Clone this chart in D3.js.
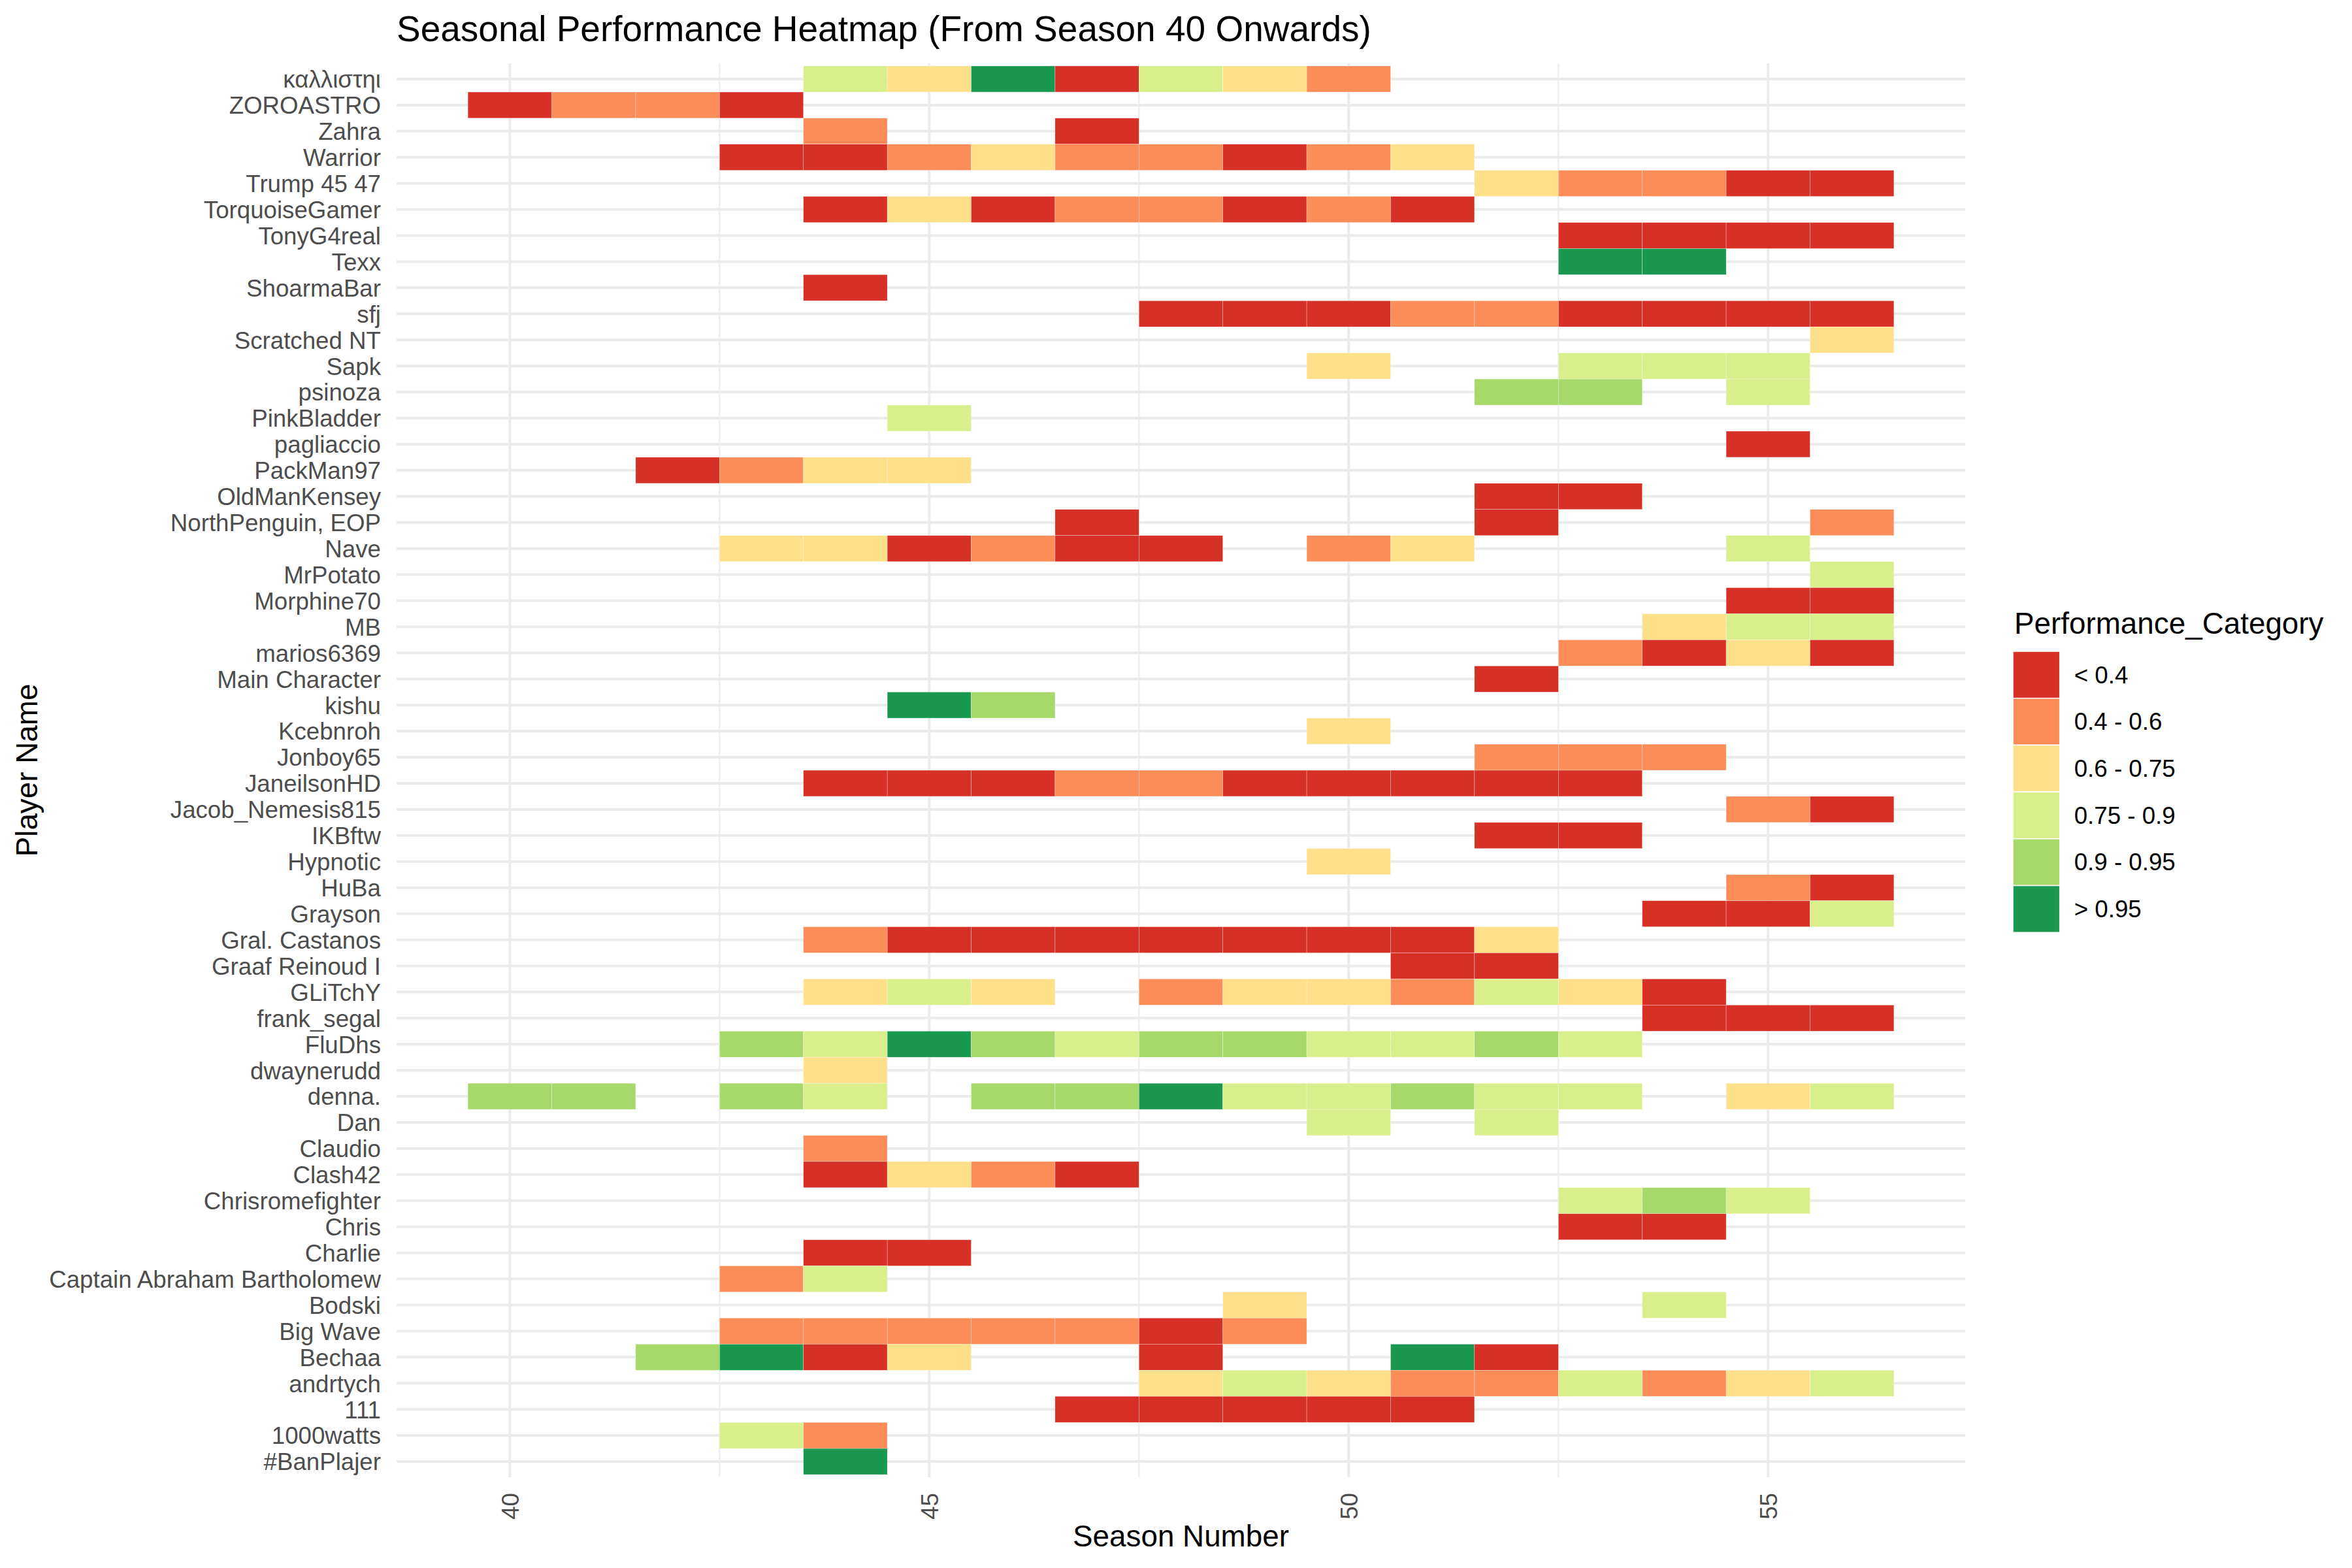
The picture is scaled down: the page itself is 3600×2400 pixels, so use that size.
<!DOCTYPE html>
<html>
<head>
<meta charset="utf-8">
<script src="https://cdn.jsdelivr.net/npm/d3@7"></script>
<style>
  html, body { margin: 0; padding: 0; background: #ffffff; }
  svg { display: block; }
  text { font-family: "Liberation Sans", Arial, Helvetica, sans-serif; }
</style>
</head>
<body>
<svg id="chart" width="3600" height="2400"></svg>
<script>
// ---------------- DATA ----------------
const chartTitle = "Seasonal Performance Heatmap (From Season 40 Onwards)";
const xTitle = "Season Number";
const yTitle = "Player Name";
const legendTitle = "Performance_Category";

const categories = ["< 0.4", "0.4 - 0.6", "0.6 - 0.75", "0.75 - 0.9", "0.9 - 0.95", "> 0.95"];
const categoryColors = ["#D73027", "#FC8D59", "#FEE08B", "#D9EF8B", "#A6D96A", "#1A9850"];

const seasonTicks = [40, 45, 50, 55];
const seasonMinorTicks = [42.5, 47.5, 52.5];
const seasonRange = [40, 56];

// players listed top to bottom
const players = [
  "καλλιστηι", "ZOROASTRO", "Zahra", "Warrior", "Trump 45 47", "TorquoiseGamer",
  "TonyG4real", "Texx", "ShoarmaBar", "sfj", "Scratched NT", "Sapk", "psinoza",
  "PinkBladder", "pagliaccio", "PackMan97", "OldManKensey", "NorthPenguin, EOP",
  "Nave", "MrPotato", "Morphine70", "MB", "marios6369", "Main Character", "kishu",
  "Kcebnroh", "Jonboy65", "JaneilsonHD", "Jacob_Nemesis815", "IKBftw", "Hypnotic",
  "HuBa", "Grayson", "Gral. Castanos", "Graaf Reinoud I", "GLiTchY", "frank_segal",
  "FluDhs", "dwaynerudd", "denna.", "Dan", "Claudio", "Clash42", "Chrisromefighter",
  "Chris", "Charlie", "Captain Abraham Bartholomew", "Bodski", "Big Wave", "Bechaa",
  "andrtych", "111", "1000watts", "#BanPlajer"
];

// [season, category index] pairs for each player (same order as players)
const playerSeasons = [
  [[44,3],[45,2],[46,5],[47,0],[48,3],[49,2],[50,1]],
  [[40,0],[41,1],[42,1],[43,0]],
  [[44,1],[47,0]],
  [[43,0],[44,0],[45,1],[46,2],[47,1],[48,1],[49,0],[50,1],[51,2]],
  [[52,2],[53,1],[54,1],[55,0],[56,0]],
  [[44,0],[45,2],[46,0],[47,1],[48,1],[49,0],[50,1],[51,0]],
  [[53,0],[54,0],[55,0],[56,0]],
  [[53,5],[54,5]],
  [[44,0]],
  [[48,0],[49,0],[50,0],[51,1],[52,1],[53,0],[54,0],[55,0],[56,0]],
  [[56,2]],
  [[50,2],[53,3],[54,3],[55,3]],
  [[52,4],[53,4],[55,3]],
  [[45,3]],
  [[55,0]],
  [[42,0],[43,1],[44,2],[45,2]],
  [[52,0],[53,0]],
  [[47,0],[52,0],[56,1]],
  [[43,2],[44,2],[45,0],[46,1],[47,0],[48,0],[50,1],[51,2],[55,3]],
  [[56,3]],
  [[55,0],[56,0]],
  [[54,2],[55,3],[56,3]],
  [[53,1],[54,0],[55,2],[56,0]],
  [[52,0]],
  [[45,5],[46,4]],
  [[50,2]],
  [[52,1],[53,1],[54,1]],
  [[44,0],[45,0],[46,0],[47,1],[48,1],[49,0],[50,0],[51,0],[52,0],[53,0]],
  [[55,1],[56,0]],
  [[52,0],[53,0]],
  [[50,2]],
  [[55,1],[56,0]],
  [[54,0],[55,0],[56,3]],
  [[44,1],[45,0],[46,0],[47,0],[48,0],[49,0],[50,0],[51,0],[52,2]],
  [[51,0],[52,0]],
  [[44,2],[45,3],[46,2],[48,1],[49,2],[50,2],[51,1],[52,3],[53,2],[54,0]],
  [[54,0],[55,0],[56,0]],
  [[43,4],[44,3],[45,5],[46,4],[47,3],[48,4],[49,4],[50,3],[51,3],[52,4],[53,3]],
  [[44,2]],
  [[40,4],[41,4],[43,4],[44,3],[46,4],[47,4],[48,5],[49,3],[50,3],[51,4],[52,3],[53,3],[55,2],[56,3]],
  [[50,3],[52,3]],
  [[44,1]],
  [[44,0],[45,2],[46,1],[47,0]],
  [[53,3],[54,4],[55,3]],
  [[53,0],[54,0]],
  [[44,0],[45,0]],
  [[43,1],[44,3]],
  [[49,2],[54,3]],
  [[43,1],[44,1],[45,1],[46,1],[47,1],[48,0],[49,1]],
  [[42,4],[43,5],[44,0],[45,2],[48,0],[51,5],[52,0]],
  [[48,2],[49,3],[50,2],[51,1],[52,1],[53,3],[54,1],[55,2],[56,3]],
  [[47,0],[48,0],[49,0],[50,0],[51,0]],
  [[43,3],[44,1]],
  [[44,5]]
];

// ---------------- LAYOUT ----------------
const panel = { left: 607, right: 3008, top: 97, bottom: 2261 };
const axisTextSize = 36.7;
const titleSize = 55;
const axisTitleSize = 45.8;

const svg = d3.select("#chart");
svg.append("rect").attr("width", 3600).attr("height", 2400).attr("fill", "#ffffff");

// continuous x with ggplot-like 5% expansion around tile extents
const xLo = seasonRange[0] - 0.5, xHi = seasonRange[1] + 0.5;
const xPad = (xHi - xLo) * 0.05;
const x = d3.scaleLinear().domain([xLo - xPad, xHi + xPad]).range([panel.left, panel.right]);

// discrete y, 0.6 expansion
const y = d3.scalePoint().domain(players).range([panel.top, panel.bottom]).padding(0.6);
const rowH = y.step();
const colW = x(1) - x(0);

const color = d3.scaleOrdinal().domain(d3.range(categories.length)).range(categoryColors);

// ---------------- GRID ----------------
const grid = svg.append("g");
grid.selectAll(".minor").data(seasonMinorTicks).join("line")
  .attr("x1", d => x(d)).attr("x2", d => x(d))
  .attr("y1", panel.top).attr("y2", panel.bottom)
  .attr("stroke", "#EBEBEB").attr("stroke-width", 2);
grid.selectAll(".majorx").data(seasonTicks).join("line")
  .attr("x1", d => x(d)).attr("x2", d => x(d))
  .attr("y1", panel.top).attr("y2", panel.bottom)
  .attr("stroke", "#EBEBEB").attr("stroke-width", 4);
grid.selectAll(".majory").data(players).join("line")
  .attr("x1", panel.left).attr("x2", panel.right)
  .attr("y1", d => y(d)).attr("y2", d => y(d))
  .attr("stroke", "#EBEBEB").attr("stroke-width", 4);

// ---------------- TILES ----------------
const cells = [];
players.forEach((p, i) => {
  playerSeasons[i].forEach(([s, c]) => cells.push({ player: p, season: s, cat: c }));
});

svg.append("g").selectAll("rect").data(cells).join("rect")
  .attr("x", d => x(d.season - 0.5))
  .attr("y", d => y(d.player) - rowH / 2)
  .attr("width", colW)
  .attr("height", rowH)
  .attr("fill", d => color(d.cat))
  .attr("stroke", "#ffffff")
  .attr("stroke-opacity", 0.6)
  .attr("stroke-width", 0.5);

// ---------------- AXES ----------------
const yAxis = svg.append("g")
  .attr("transform", `translate(${panel.left - 24},0)`)
  .call(d3.axisLeft(y).tickSize(0).tickPadding(0));
yAxis.select(".domain").remove();
yAxis.selectAll("text")
  .attr("fill", "#4D4D4D")
  .style("font-size", axisTextSize + "px")
  .style("font-family", '"Liberation Sans", Arial, sans-serif')
  .attr("dy", "0.35em");

const xAxis = svg.append("g")
  .attr("transform", `translate(0,${panel.bottom + 24})`)
  .call(d3.axisBottom(x).tickValues(seasonTicks).tickSize(0).tickPadding(0));
xAxis.select(".domain").remove();
xAxis.selectAll("text")
  .attr("fill", "#4D4D4D")
  .style("font-size", axisTextSize + "px")
  .style("font-family", '"Liberation Sans", Arial, sans-serif')
  .attr("text-anchor", "end")
  .attr("transform", "rotate(-90)")
  .attr("x", 0).attr("y", 0)
  .attr("dy", "0.35em");

// ---------------- TITLES ----------------
svg.append("text")
  .attr("x", panel.left).attr("y", 63)
  .attr("fill", "#000000")
  .style("font-size", titleSize + "px")
  .text(chartTitle);

svg.append("text")
  .attr("x", (panel.left + panel.right) / 2).attr("y", 2367)
  .attr("text-anchor", "middle")
  .attr("fill", "#000000")
  .style("font-size", axisTitleSize + "px")
  .text(xTitle);

svg.append("text")
  .attr("transform", `translate(57,${(panel.top + panel.bottom) / 2}) rotate(-90)`)
  .attr("text-anchor", "middle")
  .attr("fill", "#000000")
  .style("font-size", axisTitleSize + "px")
  .text(yTitle);

// ---------------- LEGEND ----------------
const legendX = 3081, keyTop = 997, keySize = 71.7;
const legend = svg.append("g");
legend.append("text")
  .attr("x", legendX + 2).attr("y", 970)
  .attr("fill", "#000000")
  .style("font-size", axisTitleSize + "px")
  .text(legendTitle);

const keyScale = d3.scaleBand().domain(d3.range(categories.length))
  .range([keyTop, keyTop + keySize * categories.length]);

const items = legend.selectAll(".item").data(categories).join("g");
items.append("rect")
  .attr("x", legendX)
  .attr("y", (d, i) => keyScale(i))
  .attr("width", keySize)
  .attr("height", keyScale.bandwidth())
  .attr("fill", (d, i) => color(i))
  .attr("stroke", "#ffffff")
  .attr("stroke-width", 1.5);
items.append("text")
  .attr("x", legendX + keySize + 22)
  .attr("y", (d, i) => keyScale(i) + keyScale.bandwidth() / 2)
  .attr("dy", "0.35em")
  .attr("fill", "#000000")
  .style("font-size", axisTextSize + "px")
  .text(d => d);
</script>
</body>
</html>
